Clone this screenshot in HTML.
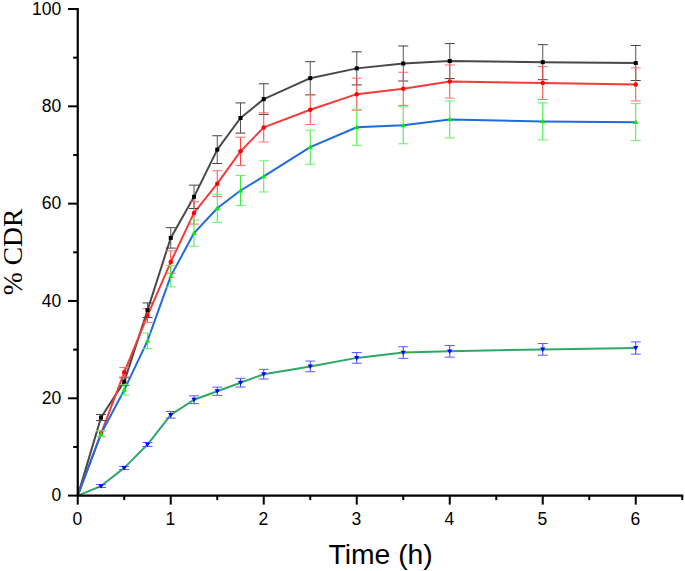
<!DOCTYPE html>
<html><head><meta charset="utf-8"><style>
html,body{margin:0;padding:0;background:#fff;width:685px;height:571px;overflow:hidden;font-family:"Liberation Sans",sans-serif;}
svg{display:block;}
</style></head><body>
<svg width="685" height="571" viewBox="0 0 685 571">
<rect width="685" height="571" fill="#fff"/>
<path d="M77.75,495.60 L101.00,417.50 L124.25,381.59 L147.50,310.21 L170.75,237.90 L194.00,196.83 L217.25,149.63 L240.50,118.00 L263.75,99.12 L310.25,78.19 L356.75,68.37 L403.25,63.50 L449.75,61.07 L542.75,62.19 L635.75,63.01" fill="none" stroke="#484848" stroke-width="2" stroke-linejoin="round"/>
<path d="M77.75,495.60 L101.00,433.56 L124.25,372.30 L147.50,315.56 L170.75,262.03 L194.00,212.89 L217.25,183.69 L240.50,151.33 L263.75,127.39 L310.25,109.73 L356.75,94.16 L403.25,88.80 L449.75,81.50 L542.75,82.96 L635.75,84.42" fill="none" stroke="#f43a3a" stroke-width="2" stroke-linejoin="round"/>
<path d="M77.75,495.60 L101.00,433.80 L124.25,389.91 L147.50,340.86 L170.75,276.14 L194.00,233.08 L217.25,208.26 L240.50,190.50 L263.75,176.39 L310.25,147.19 L356.75,127.24 L403.25,125.30 L449.75,119.46 L542.75,121.40 L635.75,122.13" fill="none" stroke="#1f6be0" stroke-width="2" stroke-linejoin="round"/>
<path d="M77.75,495.60 L101.00,486.06 L124.25,467.91 L147.50,444.51 L170.75,414.82 L194.00,399.74 L217.25,391.22 L240.50,382.71 L263.75,374.19 L310.25,366.41 L356.75,357.89 L403.25,352.54 L449.75,351.32 L542.75,349.38 L635.75,348.01" fill="none" stroke="#2fa866" stroke-width="2" stroke-linejoin="round"/>
<line x1="101.00" y1="414.44" x2="101.00" y2="420.57" stroke="#555" stroke-width="1"/>
<line x1="96.00" y1="414.44" x2="106.00" y2="414.44" stroke="#444" stroke-width="1"/>
<line x1="96.00" y1="420.57" x2="106.00" y2="420.57" stroke="#444" stroke-width="1"/>
<line x1="124.25" y1="377.70" x2="124.25" y2="385.48" stroke="#555" stroke-width="1"/>
<line x1="119.25" y1="377.70" x2="129.25" y2="377.70" stroke="#444" stroke-width="1"/>
<line x1="119.25" y1="385.48" x2="129.25" y2="385.48" stroke="#444" stroke-width="1"/>
<line x1="147.50" y1="302.91" x2="147.50" y2="317.50" stroke="#555" stroke-width="1"/>
<line x1="142.50" y1="302.91" x2="152.50" y2="302.91" stroke="#444" stroke-width="1"/>
<line x1="142.50" y1="317.50" x2="152.50" y2="317.50" stroke="#444" stroke-width="1"/>
<line x1="170.75" y1="227.68" x2="170.75" y2="248.12" stroke="#555" stroke-width="1"/>
<line x1="165.75" y1="227.68" x2="175.75" y2="227.68" stroke="#444" stroke-width="1"/>
<line x1="165.75" y1="248.12" x2="175.75" y2="248.12" stroke="#444" stroke-width="1"/>
<line x1="194.00" y1="185.15" x2="194.00" y2="208.51" stroke="#555" stroke-width="1"/>
<line x1="189.00" y1="185.15" x2="199.00" y2="185.15" stroke="#444" stroke-width="1"/>
<line x1="189.00" y1="208.51" x2="199.00" y2="208.51" stroke="#444" stroke-width="1"/>
<line x1="217.25" y1="135.76" x2="217.25" y2="163.50" stroke="#555" stroke-width="1"/>
<line x1="212.25" y1="135.76" x2="222.25" y2="135.76" stroke="#444" stroke-width="1"/>
<line x1="212.25" y1="163.50" x2="222.25" y2="163.50" stroke="#444" stroke-width="1"/>
<line x1="240.50" y1="102.91" x2="240.50" y2="133.08" stroke="#555" stroke-width="1"/>
<line x1="235.50" y1="102.91" x2="245.50" y2="102.91" stroke="#444" stroke-width="1"/>
<line x1="235.50" y1="133.08" x2="245.50" y2="133.08" stroke="#444" stroke-width="1"/>
<line x1="263.75" y1="83.79" x2="263.75" y2="114.45" stroke="#555" stroke-width="1"/>
<line x1="258.75" y1="83.79" x2="268.75" y2="83.79" stroke="#444" stroke-width="1"/>
<line x1="258.75" y1="114.45" x2="268.75" y2="114.45" stroke="#444" stroke-width="1"/>
<line x1="310.25" y1="61.65" x2="310.25" y2="94.74" stroke="#555" stroke-width="1"/>
<line x1="305.25" y1="61.65" x2="315.25" y2="61.65" stroke="#444" stroke-width="1"/>
<line x1="305.25" y1="94.74" x2="315.25" y2="94.74" stroke="#444" stroke-width="1"/>
<line x1="356.75" y1="51.82" x2="356.75" y2="84.91" stroke="#555" stroke-width="1"/>
<line x1="351.75" y1="51.82" x2="361.75" y2="51.82" stroke="#444" stroke-width="1"/>
<line x1="351.75" y1="84.91" x2="361.75" y2="84.91" stroke="#444" stroke-width="1"/>
<line x1="403.25" y1="45.98" x2="403.25" y2="81.02" stroke="#555" stroke-width="1"/>
<line x1="398.25" y1="45.98" x2="408.25" y2="45.98" stroke="#444" stroke-width="1"/>
<line x1="398.25" y1="81.02" x2="408.25" y2="81.02" stroke="#444" stroke-width="1"/>
<line x1="449.75" y1="43.55" x2="449.75" y2="78.58" stroke="#555" stroke-width="1"/>
<line x1="444.75" y1="43.55" x2="454.75" y2="43.55" stroke="#444" stroke-width="1"/>
<line x1="444.75" y1="78.58" x2="454.75" y2="78.58" stroke="#444" stroke-width="1"/>
<line x1="542.75" y1="44.67" x2="542.75" y2="79.70" stroke="#555" stroke-width="1"/>
<line x1="537.75" y1="44.67" x2="547.75" y2="44.67" stroke="#444" stroke-width="1"/>
<line x1="537.75" y1="79.70" x2="547.75" y2="79.70" stroke="#444" stroke-width="1"/>
<line x1="635.75" y1="45.50" x2="635.75" y2="80.53" stroke="#555" stroke-width="1"/>
<line x1="630.75" y1="45.50" x2="640.75" y2="45.50" stroke="#444" stroke-width="1"/>
<line x1="630.75" y1="80.53" x2="640.75" y2="80.53" stroke="#444" stroke-width="1"/>
<line x1="101.00" y1="430.64" x2="101.00" y2="436.48" stroke="#ff4545" stroke-width="1"/>
<line x1="96.00" y1="430.64" x2="106.00" y2="430.64" stroke="#ff6a6a" stroke-width="1"/>
<line x1="96.00" y1="436.48" x2="106.00" y2="436.48" stroke="#ff6a6a" stroke-width="1"/>
<line x1="124.25" y1="367.53" x2="124.25" y2="377.06" stroke="#ff4545" stroke-width="1"/>
<line x1="119.25" y1="367.53" x2="129.25" y2="367.53" stroke="#ff6a6a" stroke-width="1"/>
<line x1="119.25" y1="377.06" x2="129.25" y2="377.06" stroke="#ff6a6a" stroke-width="1"/>
<line x1="147.50" y1="308.75" x2="147.50" y2="322.37" stroke="#ff4545" stroke-width="1"/>
<line x1="142.50" y1="308.75" x2="152.50" y2="308.75" stroke="#ff6a6a" stroke-width="1"/>
<line x1="142.50" y1="322.37" x2="152.50" y2="322.37" stroke="#ff6a6a" stroke-width="1"/>
<line x1="170.75" y1="250.84" x2="170.75" y2="273.22" stroke="#ff4545" stroke-width="1"/>
<line x1="165.75" y1="250.84" x2="175.75" y2="250.84" stroke="#ff6a6a" stroke-width="1"/>
<line x1="165.75" y1="273.22" x2="175.75" y2="273.22" stroke="#ff6a6a" stroke-width="1"/>
<line x1="194.00" y1="201.69" x2="194.00" y2="224.08" stroke="#ff4545" stroke-width="1"/>
<line x1="189.00" y1="201.69" x2="199.00" y2="201.69" stroke="#ff6a6a" stroke-width="1"/>
<line x1="189.00" y1="224.08" x2="199.00" y2="224.08" stroke="#ff6a6a" stroke-width="1"/>
<line x1="217.25" y1="170.79" x2="217.25" y2="196.58" stroke="#ff4545" stroke-width="1"/>
<line x1="212.25" y1="170.79" x2="222.25" y2="170.79" stroke="#ff6a6a" stroke-width="1"/>
<line x1="212.25" y1="196.58" x2="222.25" y2="196.58" stroke="#ff6a6a" stroke-width="1"/>
<line x1="240.50" y1="137.22" x2="240.50" y2="165.44" stroke="#ff4545" stroke-width="1"/>
<line x1="235.50" y1="137.22" x2="245.50" y2="137.22" stroke="#ff6a6a" stroke-width="1"/>
<line x1="235.50" y1="165.44" x2="245.50" y2="165.44" stroke="#ff6a6a" stroke-width="1"/>
<line x1="263.75" y1="112.79" x2="263.75" y2="141.99" stroke="#ff4545" stroke-width="1"/>
<line x1="258.75" y1="112.79" x2="268.75" y2="112.79" stroke="#ff6a6a" stroke-width="1"/>
<line x1="258.75" y1="141.99" x2="268.75" y2="141.99" stroke="#ff6a6a" stroke-width="1"/>
<line x1="310.25" y1="94.88" x2="310.25" y2="124.57" stroke="#ff4545" stroke-width="1"/>
<line x1="305.25" y1="94.88" x2="315.25" y2="94.88" stroke="#ff6a6a" stroke-width="1"/>
<line x1="305.25" y1="124.57" x2="315.25" y2="124.57" stroke="#ff6a6a" stroke-width="1"/>
<line x1="356.75" y1="78.10" x2="356.75" y2="110.21" stroke="#ff4545" stroke-width="1"/>
<line x1="351.75" y1="78.10" x2="361.75" y2="78.10" stroke="#ff6a6a" stroke-width="1"/>
<line x1="351.75" y1="110.21" x2="361.75" y2="110.21" stroke="#ff6a6a" stroke-width="1"/>
<line x1="403.25" y1="72.26" x2="403.25" y2="105.35" stroke="#ff4545" stroke-width="1"/>
<line x1="398.25" y1="72.26" x2="408.25" y2="72.26" stroke="#ff6a6a" stroke-width="1"/>
<line x1="398.25" y1="105.35" x2="408.25" y2="105.35" stroke="#ff6a6a" stroke-width="1"/>
<line x1="449.75" y1="64.96" x2="449.75" y2="98.05" stroke="#ff4545" stroke-width="1"/>
<line x1="444.75" y1="64.96" x2="454.75" y2="64.96" stroke="#ff6a6a" stroke-width="1"/>
<line x1="444.75" y1="98.05" x2="454.75" y2="98.05" stroke="#ff6a6a" stroke-width="1"/>
<line x1="542.75" y1="66.42" x2="542.75" y2="99.51" stroke="#ff4545" stroke-width="1"/>
<line x1="537.75" y1="66.42" x2="547.75" y2="66.42" stroke="#ff6a6a" stroke-width="1"/>
<line x1="537.75" y1="99.51" x2="547.75" y2="99.51" stroke="#ff6a6a" stroke-width="1"/>
<line x1="635.75" y1="67.88" x2="635.75" y2="100.97" stroke="#ff4545" stroke-width="1"/>
<line x1="630.75" y1="67.88" x2="640.75" y2="67.88" stroke="#ff6a6a" stroke-width="1"/>
<line x1="630.75" y1="100.97" x2="640.75" y2="100.97" stroke="#ff6a6a" stroke-width="1"/>
<line x1="101.00" y1="430.88" x2="101.00" y2="436.72" stroke="#3af03a" stroke-width="1"/>
<line x1="96.00" y1="430.88" x2="106.00" y2="430.88" stroke="#66f066" stroke-width="1"/>
<line x1="96.00" y1="436.72" x2="106.00" y2="436.72" stroke="#66f066" stroke-width="1"/>
<line x1="124.25" y1="384.75" x2="124.25" y2="395.07" stroke="#3af03a" stroke-width="1"/>
<line x1="119.25" y1="384.75" x2="129.25" y2="384.75" stroke="#66f066" stroke-width="1"/>
<line x1="119.25" y1="395.07" x2="129.25" y2="395.07" stroke="#66f066" stroke-width="1"/>
<line x1="147.50" y1="333.08" x2="147.50" y2="348.65" stroke="#3af03a" stroke-width="1"/>
<line x1="142.50" y1="333.08" x2="152.50" y2="333.08" stroke="#66f066" stroke-width="1"/>
<line x1="142.50" y1="348.65" x2="152.50" y2="348.65" stroke="#66f066" stroke-width="1"/>
<line x1="170.75" y1="265.44" x2="170.75" y2="286.85" stroke="#3af03a" stroke-width="1"/>
<line x1="165.75" y1="265.44" x2="175.75" y2="265.44" stroke="#66f066" stroke-width="1"/>
<line x1="165.75" y1="286.85" x2="175.75" y2="286.85" stroke="#66f066" stroke-width="1"/>
<line x1="194.00" y1="219.94" x2="194.00" y2="246.22" stroke="#3af03a" stroke-width="1"/>
<line x1="189.00" y1="219.94" x2="199.00" y2="219.94" stroke="#66f066" stroke-width="1"/>
<line x1="189.00" y1="246.22" x2="199.00" y2="246.22" stroke="#66f066" stroke-width="1"/>
<line x1="217.25" y1="194.15" x2="217.25" y2="222.37" stroke="#3af03a" stroke-width="1"/>
<line x1="212.25" y1="194.15" x2="222.25" y2="194.15" stroke="#66f066" stroke-width="1"/>
<line x1="212.25" y1="222.37" x2="222.25" y2="222.37" stroke="#66f066" stroke-width="1"/>
<line x1="240.50" y1="175.42" x2="240.50" y2="205.59" stroke="#3af03a" stroke-width="1"/>
<line x1="235.50" y1="175.42" x2="245.50" y2="175.42" stroke="#66f066" stroke-width="1"/>
<line x1="235.50" y1="205.59" x2="245.50" y2="205.59" stroke="#66f066" stroke-width="1"/>
<line x1="263.75" y1="160.82" x2="263.75" y2="191.96" stroke="#3af03a" stroke-width="1"/>
<line x1="258.75" y1="160.82" x2="268.75" y2="160.82" stroke="#66f066" stroke-width="1"/>
<line x1="258.75" y1="191.96" x2="268.75" y2="191.96" stroke="#66f066" stroke-width="1"/>
<line x1="310.25" y1="130.16" x2="310.25" y2="164.23" stroke="#3af03a" stroke-width="1"/>
<line x1="305.25" y1="130.16" x2="315.25" y2="130.16" stroke="#66f066" stroke-width="1"/>
<line x1="305.25" y1="164.23" x2="315.25" y2="164.23" stroke="#66f066" stroke-width="1"/>
<line x1="356.75" y1="109.24" x2="356.75" y2="145.25" stroke="#3af03a" stroke-width="1"/>
<line x1="351.75" y1="109.24" x2="361.75" y2="109.24" stroke="#66f066" stroke-width="1"/>
<line x1="351.75" y1="145.25" x2="361.75" y2="145.25" stroke="#66f066" stroke-width="1"/>
<line x1="403.25" y1="106.81" x2="403.25" y2="143.79" stroke="#3af03a" stroke-width="1"/>
<line x1="398.25" y1="106.81" x2="408.25" y2="106.81" stroke="#66f066" stroke-width="1"/>
<line x1="398.25" y1="143.79" x2="408.25" y2="143.79" stroke="#66f066" stroke-width="1"/>
<line x1="449.75" y1="100.97" x2="449.75" y2="137.95" stroke="#3af03a" stroke-width="1"/>
<line x1="444.75" y1="100.97" x2="454.75" y2="100.97" stroke="#66f066" stroke-width="1"/>
<line x1="444.75" y1="137.95" x2="454.75" y2="137.95" stroke="#66f066" stroke-width="1"/>
<line x1="542.75" y1="102.91" x2="542.75" y2="139.90" stroke="#3af03a" stroke-width="1"/>
<line x1="537.75" y1="102.91" x2="547.75" y2="102.91" stroke="#66f066" stroke-width="1"/>
<line x1="537.75" y1="139.90" x2="547.75" y2="139.90" stroke="#66f066" stroke-width="1"/>
<line x1="635.75" y1="103.64" x2="635.75" y2="140.63" stroke="#3af03a" stroke-width="1"/>
<line x1="630.75" y1="103.64" x2="640.75" y2="103.64" stroke="#66f066" stroke-width="1"/>
<line x1="630.75" y1="140.63" x2="640.75" y2="140.63" stroke="#66f066" stroke-width="1"/>
<line x1="101.00" y1="484.60" x2="101.00" y2="487.52" stroke="#3a3aff" stroke-width="1"/>
<line x1="96.00" y1="484.60" x2="106.00" y2="484.60" stroke="#5a5aff" stroke-width="1"/>
<line x1="96.00" y1="487.52" x2="106.00" y2="487.52" stroke="#5a5aff" stroke-width="1"/>
<line x1="124.25" y1="466.36" x2="124.25" y2="469.47" stroke="#3a3aff" stroke-width="1"/>
<line x1="119.25" y1="466.36" x2="129.25" y2="466.36" stroke="#5a5aff" stroke-width="1"/>
<line x1="119.25" y1="469.47" x2="129.25" y2="469.47" stroke="#5a5aff" stroke-width="1"/>
<line x1="147.50" y1="442.56" x2="147.50" y2="446.45" stroke="#3a3aff" stroke-width="1"/>
<line x1="142.50" y1="442.56" x2="152.50" y2="442.56" stroke="#5a5aff" stroke-width="1"/>
<line x1="142.50" y1="446.45" x2="152.50" y2="446.45" stroke="#5a5aff" stroke-width="1"/>
<line x1="170.75" y1="411.52" x2="170.75" y2="418.13" stroke="#3a3aff" stroke-width="1"/>
<line x1="165.75" y1="411.52" x2="175.75" y2="411.52" stroke="#5a5aff" stroke-width="1"/>
<line x1="165.75" y1="418.13" x2="175.75" y2="418.13" stroke="#5a5aff" stroke-width="1"/>
<line x1="194.00" y1="395.85" x2="194.00" y2="403.63" stroke="#3a3aff" stroke-width="1"/>
<line x1="189.00" y1="395.85" x2="199.00" y2="395.85" stroke="#5a5aff" stroke-width="1"/>
<line x1="189.00" y1="403.63" x2="199.00" y2="403.63" stroke="#5a5aff" stroke-width="1"/>
<line x1="217.25" y1="387.09" x2="217.25" y2="395.36" stroke="#3a3aff" stroke-width="1"/>
<line x1="212.25" y1="387.09" x2="222.25" y2="387.09" stroke="#5a5aff" stroke-width="1"/>
<line x1="212.25" y1="395.36" x2="222.25" y2="395.36" stroke="#5a5aff" stroke-width="1"/>
<line x1="240.50" y1="378.33" x2="240.50" y2="387.09" stroke="#3a3aff" stroke-width="1"/>
<line x1="235.50" y1="378.33" x2="245.50" y2="378.33" stroke="#5a5aff" stroke-width="1"/>
<line x1="235.50" y1="387.09" x2="245.50" y2="387.09" stroke="#5a5aff" stroke-width="1"/>
<line x1="263.75" y1="369.33" x2="263.75" y2="379.06" stroke="#3a3aff" stroke-width="1"/>
<line x1="258.75" y1="369.33" x2="268.75" y2="369.33" stroke="#5a5aff" stroke-width="1"/>
<line x1="258.75" y1="379.06" x2="268.75" y2="379.06" stroke="#5a5aff" stroke-width="1"/>
<line x1="310.25" y1="361.06" x2="310.25" y2="371.76" stroke="#3a3aff" stroke-width="1"/>
<line x1="305.25" y1="361.06" x2="315.25" y2="361.06" stroke="#5a5aff" stroke-width="1"/>
<line x1="305.25" y1="371.76" x2="315.25" y2="371.76" stroke="#5a5aff" stroke-width="1"/>
<line x1="356.75" y1="352.54" x2="356.75" y2="363.24" stroke="#3a3aff" stroke-width="1"/>
<line x1="351.75" y1="352.54" x2="361.75" y2="352.54" stroke="#5a5aff" stroke-width="1"/>
<line x1="351.75" y1="363.24" x2="361.75" y2="363.24" stroke="#5a5aff" stroke-width="1"/>
<line x1="403.25" y1="346.70" x2="403.25" y2="358.38" stroke="#3a3aff" stroke-width="1"/>
<line x1="398.25" y1="346.70" x2="408.25" y2="346.70" stroke="#5a5aff" stroke-width="1"/>
<line x1="398.25" y1="358.38" x2="408.25" y2="358.38" stroke="#5a5aff" stroke-width="1"/>
<line x1="449.75" y1="345.48" x2="449.75" y2="357.16" stroke="#3a3aff" stroke-width="1"/>
<line x1="444.75" y1="345.48" x2="454.75" y2="345.48" stroke="#5a5aff" stroke-width="1"/>
<line x1="444.75" y1="357.16" x2="454.75" y2="357.16" stroke="#5a5aff" stroke-width="1"/>
<line x1="542.75" y1="343.54" x2="542.75" y2="355.22" stroke="#3a3aff" stroke-width="1"/>
<line x1="537.75" y1="343.54" x2="547.75" y2="343.54" stroke="#5a5aff" stroke-width="1"/>
<line x1="537.75" y1="355.22" x2="547.75" y2="355.22" stroke="#5a5aff" stroke-width="1"/>
<line x1="635.75" y1="341.93" x2="635.75" y2="354.10" stroke="#3a3aff" stroke-width="1"/>
<line x1="630.75" y1="341.93" x2="640.75" y2="341.93" stroke="#5a5aff" stroke-width="1"/>
<line x1="630.75" y1="354.10" x2="640.75" y2="354.10" stroke="#5a5aff" stroke-width="1"/>
<rect x="99.00" y="415.50" width="4.0" height="4.0" fill="#000"/>
<rect x="122.25" y="379.59" width="4.0" height="4.0" fill="#000"/>
<rect x="145.50" y="308.21" width="4.0" height="4.0" fill="#000"/>
<rect x="168.75" y="235.90" width="4.0" height="4.0" fill="#000"/>
<rect x="192.00" y="194.83" width="4.0" height="4.0" fill="#000"/>
<rect x="215.25" y="147.63" width="4.0" height="4.0" fill="#000"/>
<rect x="238.50" y="116.00" width="4.0" height="4.0" fill="#000"/>
<rect x="261.75" y="97.12" width="4.0" height="4.0" fill="#000"/>
<rect x="308.25" y="76.19" width="4.0" height="4.0" fill="#000"/>
<rect x="354.75" y="66.37" width="4.0" height="4.0" fill="#000"/>
<rect x="401.25" y="61.50" width="4.0" height="4.0" fill="#000"/>
<rect x="447.75" y="59.07" width="4.0" height="4.0" fill="#000"/>
<rect x="540.75" y="60.19" width="4.0" height="4.0" fill="#000"/>
<rect x="633.75" y="61.01" width="4.0" height="4.0" fill="#000"/>
<circle cx="101.00" cy="433.56" r="2.25" fill="#ff0000"/>
<circle cx="124.25" cy="372.30" r="2.25" fill="#ff0000"/>
<circle cx="147.50" cy="315.56" r="2.25" fill="#ff0000"/>
<circle cx="170.75" cy="262.03" r="2.25" fill="#ff0000"/>
<circle cx="194.00" cy="212.89" r="2.25" fill="#ff0000"/>
<circle cx="217.25" cy="183.69" r="2.25" fill="#ff0000"/>
<circle cx="240.50" cy="151.33" r="2.25" fill="#ff0000"/>
<circle cx="263.75" cy="127.39" r="2.25" fill="#ff0000"/>
<circle cx="310.25" cy="109.73" r="2.25" fill="#ff0000"/>
<circle cx="356.75" cy="94.16" r="2.25" fill="#ff0000"/>
<circle cx="403.25" cy="88.80" r="2.25" fill="#ff0000"/>
<circle cx="449.75" cy="81.50" r="2.25" fill="#ff0000"/>
<circle cx="542.75" cy="82.96" r="2.25" fill="#ff0000"/>
<circle cx="635.75" cy="84.42" r="2.25" fill="#ff0000"/>
<path d="M101.00,431.20 L103.60,435.70 L98.40,435.70 Z" fill="#00ee00"/>
<path d="M124.25,387.31 L126.85,391.81 L121.65,391.81 Z" fill="#00ee00"/>
<path d="M147.50,338.26 L150.10,342.76 L144.90,342.76 Z" fill="#00ee00"/>
<path d="M170.75,273.54 L173.35,278.04 L168.15,278.04 Z" fill="#00ee00"/>
<path d="M194.00,230.48 L196.60,234.98 L191.40,234.98 Z" fill="#00ee00"/>
<path d="M217.25,205.66 L219.85,210.16 L214.65,210.16 Z" fill="#00ee00"/>
<path d="M240.50,187.90 L243.10,192.40 L237.90,192.40 Z" fill="#00ee00"/>
<path d="M263.75,173.79 L266.35,178.29 L261.15,178.29 Z" fill="#00ee00"/>
<path d="M310.25,144.59 L312.85,149.09 L307.65,149.09 Z" fill="#00ee00"/>
<path d="M356.75,124.64 L359.35,129.14 L354.15,129.14 Z" fill="#00ee00"/>
<path d="M403.25,122.70 L405.85,127.20 L400.65,127.20 Z" fill="#00ee00"/>
<path d="M449.75,116.86 L452.35,121.36 L447.15,121.36 Z" fill="#00ee00"/>
<path d="M542.75,118.80 L545.35,123.30 L540.15,123.30 Z" fill="#00ee00"/>
<path d="M635.75,119.53 L638.35,124.03 L633.15,124.03 Z" fill="#00ee00"/>
<path d="M101.00,488.66 L103.60,484.16 L98.40,484.16 Z" fill="#0000ff"/>
<path d="M124.25,470.51 L126.85,466.01 L121.65,466.01 Z" fill="#0000ff"/>
<path d="M147.50,447.11 L150.10,442.61 L144.90,442.61 Z" fill="#0000ff"/>
<path d="M170.75,417.42 L173.35,412.92 L168.15,412.92 Z" fill="#0000ff"/>
<path d="M194.00,402.34 L196.60,397.84 L191.40,397.84 Z" fill="#0000ff"/>
<path d="M217.25,393.82 L219.85,389.32 L214.65,389.32 Z" fill="#0000ff"/>
<path d="M240.50,385.31 L243.10,380.81 L237.90,380.81 Z" fill="#0000ff"/>
<path d="M263.75,376.79 L266.35,372.29 L261.15,372.29 Z" fill="#0000ff"/>
<path d="M310.25,369.01 L312.85,364.51 L307.65,364.51 Z" fill="#0000ff"/>
<path d="M356.75,360.49 L359.35,355.99 L354.15,355.99 Z" fill="#0000ff"/>
<path d="M403.25,355.14 L405.85,350.64 L400.65,350.64 Z" fill="#0000ff"/>
<path d="M449.75,353.92 L452.35,349.42 L447.15,349.42 Z" fill="#0000ff"/>
<path d="M542.75,351.98 L545.35,347.48 L540.15,347.48 Z" fill="#0000ff"/>
<path d="M635.75,350.61 L638.35,346.11 L633.15,346.11 Z" fill="#0000ff"/>
<line x1="77.75" y1="8" x2="77.75" y2="496.6" stroke="#000" stroke-width="2.2"/>
<line x1="76.65" y1="495.6" x2="683.3" y2="495.6" stroke="#000" stroke-width="2.1"/>
<line x1="68.05" y1="495.60" x2="77.75" y2="495.60" stroke="#000" stroke-width="2"/>
<line x1="73.15" y1="446.94" x2="77.75" y2="446.94" stroke="#000" stroke-width="2"/>
<line x1="68.05" y1="398.28" x2="77.75" y2="398.28" stroke="#000" stroke-width="2"/>
<line x1="73.15" y1="349.62" x2="77.75" y2="349.62" stroke="#000" stroke-width="2"/>
<line x1="68.05" y1="300.96" x2="77.75" y2="300.96" stroke="#000" stroke-width="2"/>
<line x1="73.15" y1="252.30" x2="77.75" y2="252.30" stroke="#000" stroke-width="2"/>
<line x1="68.05" y1="203.64" x2="77.75" y2="203.64" stroke="#000" stroke-width="2"/>
<line x1="73.15" y1="154.98" x2="77.75" y2="154.98" stroke="#000" stroke-width="2"/>
<line x1="68.05" y1="106.32" x2="77.75" y2="106.32" stroke="#000" stroke-width="2"/>
<line x1="73.15" y1="57.66" x2="77.75" y2="57.66" stroke="#000" stroke-width="2"/>
<line x1="68.05" y1="9.00" x2="77.75" y2="9.00" stroke="#000" stroke-width="2"/>
<line x1="77.75" y1="495.6" x2="77.75" y2="504.60" stroke="#000" stroke-width="2"/>
<line x1="124.25" y1="495.6" x2="124.25" y2="500.10" stroke="#000" stroke-width="2"/>
<line x1="170.75" y1="495.6" x2="170.75" y2="504.60" stroke="#000" stroke-width="2"/>
<line x1="217.25" y1="495.6" x2="217.25" y2="500.10" stroke="#000" stroke-width="2"/>
<line x1="263.75" y1="495.6" x2="263.75" y2="504.60" stroke="#000" stroke-width="2"/>
<line x1="310.25" y1="495.6" x2="310.25" y2="500.10" stroke="#000" stroke-width="2"/>
<line x1="356.75" y1="495.6" x2="356.75" y2="504.60" stroke="#000" stroke-width="2"/>
<line x1="403.25" y1="495.6" x2="403.25" y2="500.10" stroke="#000" stroke-width="2"/>
<line x1="449.75" y1="495.6" x2="449.75" y2="504.60" stroke="#000" stroke-width="2"/>
<line x1="496.25" y1="495.6" x2="496.25" y2="500.10" stroke="#000" stroke-width="2"/>
<line x1="542.75" y1="495.6" x2="542.75" y2="504.60" stroke="#000" stroke-width="2"/>
<line x1="589.25" y1="495.6" x2="589.25" y2="500.10" stroke="#000" stroke-width="2"/>
<line x1="635.75" y1="495.6" x2="635.75" y2="504.60" stroke="#000" stroke-width="2"/>
<line x1="682.25" y1="495.6" x2="682.25" y2="500.10" stroke="#000" stroke-width="2"/>
<g font-family="&quot;Liberation Sans&quot;, sans-serif" font-size="17.5" fill="#000"><text x="61.2" y="501.20" text-anchor="end">0</text>
<text x="61.2" y="403.88" text-anchor="end">20</text>
<text x="61.2" y="306.56" text-anchor="end">40</text>
<text x="61.2" y="209.24" text-anchor="end">60</text>
<text x="61.2" y="111.92" text-anchor="end">80</text>
<text x="61.2" y="14.60" text-anchor="end">100</text>
<text x="77.45" y="525.2" text-anchor="middle">0</text>
<text x="170.45" y="525.2" text-anchor="middle">1</text>
<text x="263.45" y="525.2" text-anchor="middle">2</text>
<text x="356.45" y="525.2" text-anchor="middle">3</text>
<text x="449.45" y="525.2" text-anchor="middle">4</text>
<text x="542.45" y="525.2" text-anchor="middle">5</text>
<text x="635.45" y="525.2" text-anchor="middle">6</text></g>
<text x="380.6" y="563.6" text-anchor="middle" font-family="&quot;Liberation Sans&quot;, sans-serif" font-size="28.3" fill="#000">Time (h)</text>
<text transform="translate(21.8,251.9) rotate(-90)" x="0" y="0" text-anchor="middle" font-family="&quot;Liberation Serif&quot;, serif" font-size="27.6" fill="#000">% CDR</text>
</svg>
</body></html>
